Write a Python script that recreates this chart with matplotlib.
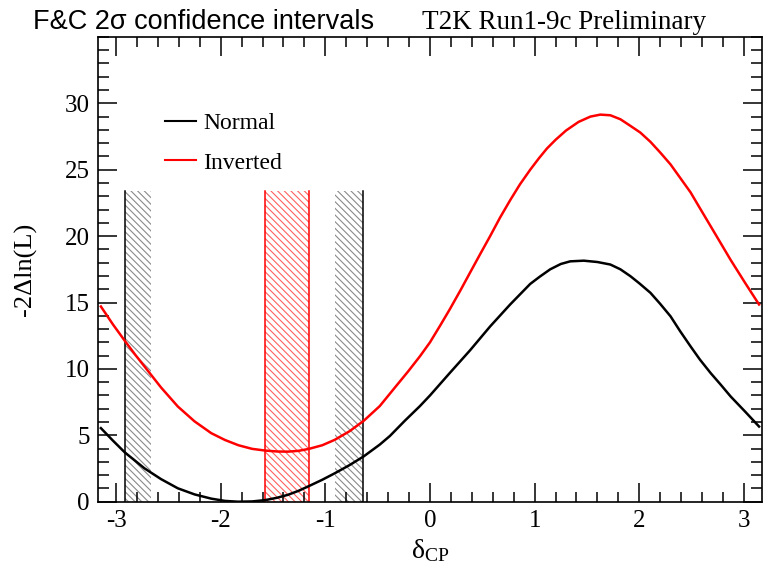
import numpy as np
import matplotlib.pyplot as plt
from matplotlib.ticker import MultipleLocator

# -2 delta ln(L) vs delta_CP
x_norm = [-3.145, -3.03, -2.915, -2.82, -2.73, -2.57, -2.41, -2.25, -2.09, -1.96, -1.835,
          -1.7, -1.574, -1.46, -1.357, -1.256, -1.156, -1.03, -0.91, -0.77, -0.632,
          -0.48, -0.383, -0.24, -0.096, 0.0, 0.19, 0.383, 0.575, 0.766, 0.958, 1.05,
          1.149, 1.25, 1.34, 1.47, 1.6, 1.724, 1.82, 1.916, 2.0, 2.107, 2.2, 2.299,
          2.39, 2.49, 2.58, 2.682, 2.78, 2.874, 3.01, 3.145]
y_norm = [5.54, 4.6, 3.7, 3.1, 2.52, 1.7, 1.01, 0.55, 0.23, 0.06, 0.0,
          0.02, 0.12, 0.3, 0.52, 0.82, 1.18, 1.65, 2.14, 2.75, 3.42,
          4.3, 4.95, 6.1, 7.2, 8.0, 9.7, 11.4, 13.2, 14.85, 16.4, 16.95,
          17.5, 17.9, 18.1, 18.15, 18.05, 17.86, 17.5, 16.98, 16.45, 15.73, 14.9, 13.96,
          12.85, 11.7, 10.7, 9.69, 8.8, 7.92, 6.8, 5.66]

x_inv = [-3.145, -3.03, -2.915, -2.82, -2.73, -2.57, -2.41, -2.25, -2.09, -1.96, -1.83,
         -1.7, -1.574, -1.46, -1.357, -1.256, -1.156, -1.03, -0.91, -0.77, -0.632,
         -0.48, -0.335, -0.21, -0.096, 0.0, 0.1, 0.19, 0.29, 0.383, 0.48, 0.575, 0.67,
         0.766, 0.86, 0.958, 1.04, 1.118, 1.2, 1.3, 1.42, 1.533, 1.628, 1.724, 1.82,
         1.916, 2.01, 2.107, 2.2, 2.299, 2.39, 2.49, 2.58, 2.682, 2.78, 2.874, 3.01, 3.145]
y_inv = [14.7, 13.35, 12.1, 11.1, 10.2, 8.6, 7.17, 6.05, 5.16, 4.65, 4.25,
         3.98, 3.85, 3.78, 3.77, 3.83, 3.98, 4.25, 4.66, 5.3, 6.1,
         7.2, 8.6, 9.8, 10.95, 12.0, 13.3, 14.5, 15.9, 17.25, 18.65, 20.0, 21.4,
         22.7, 23.9, 25.0, 25.85, 26.6, 27.25, 27.95, 28.6, 29.0, 29.15, 29.1, 28.8,
         28.3, 27.8, 27.1, 26.3, 25.4, 24.4, 23.3, 22.1, 20.75, 19.45, 18.2, 16.5, 14.85]

# 2 sigma intervals (bounds and hatched edges)
norm_bounds = [-2.915, -0.637]
norm_hatch = [[-2.915, -2.666], [-0.903, -0.637]]
inv_bounds = [-1.574, -1.156]
band_top = 23.4

plt.rcParams['hatch.linewidth'] = 0.8
plt.rcParams['axes.unicode_minus'] = False
plt.rcParams['mathtext.fontset'] = 'custom'
plt.rcParams['mathtext.rm'] = 'Liberation Serif'
serif = ['Liberation Serif', 'DejaVu Serif']

fig = plt.figure(figsize=(7.8, 5.77), dpi=100)
ax = fig.add_axes([0.126, 0.1305, 0.8505, 0.8055])

for a, b in norm_hatch:
    ax.fill_between([a, b], 0, band_top, facecolor='none', edgecolor='#8a8a8a',
                    hatch='\\' * 5, linewidth=0)
ax.fill_between(inv_bounds, 0, band_top, facecolor='none', edgecolor='#ff6060',
                hatch='\\' * 5, linewidth=0)
for xb in norm_bounds:
    ax.plot([xb, xb], [0, band_top], color='black', lw=1.1)
for xb in inv_bounds:
    ax.plot([xb, xb], [0, band_top], color='red', lw=1.1)

l1, = ax.plot(x_norm, y_norm, color='black', lw=1.8, label='Normal')
l2, = ax.plot(x_inv, y_inv, color='red', lw=1.8, label='Inverted')

ax.set_xlim(-3.17, 3.17)
ax.set_ylim(0, 35)
ax.xaxis.set_major_locator(MultipleLocator(1))
ax.xaxis.set_minor_locator(MultipleLocator(0.2))
ax.yaxis.set_major_locator(MultipleLocator(5))
ax.yaxis.set_minor_locator(MultipleLocator(1))
ax.tick_params(which='both', direction='in', top=True, right=True, width=1.1)
ax.tick_params(which='major', length=14, labelsize=18, pad=6)
ax.tick_params(which='minor', length=7)
ax.tick_params(axis='y', which='minor', length=8)
ax.set_yticks([0, 5, 10, 15, 20, 25, 30])
for lab in ax.get_xticklabels() + ax.get_yticklabels():
    lab.set_family(serif)
for s in ax.spines.values():
    s.set_linewidth(1.2)

ax.set_xlabel(r'$\mathregular{\delta_{CP}}$', fontsize=20, family=serif, labelpad=4)
ax.set_ylabel('-2\u0394ln(L)', fontsize=19, family=serif, labelpad=20)

leg = ax.legend(handles=[l1, l2], loc='upper left', bbox_to_anchor=(0.083, 0.862),
                frameon=False, prop={'family': serif, 'size': 17}, handlelength=1.3,
                handletextpad=0.3, labelspacing=0.75, borderpad=0)
for h in leg.get_lines():
    h.set_linewidth(1.5)

fig.text(0.042, 0.949, 'F&C 2\u03c3 confidence intervals', fontsize=19.5,
         family=['Liberation Sans', 'DejaVu Sans'], va='baseline')
fig.text(0.541, 0.949, 'T2K Run1-9c Preliminary', fontsize=19.5, family=serif,
         va='baseline')

fig.savefig('out.png', dpi=100)
